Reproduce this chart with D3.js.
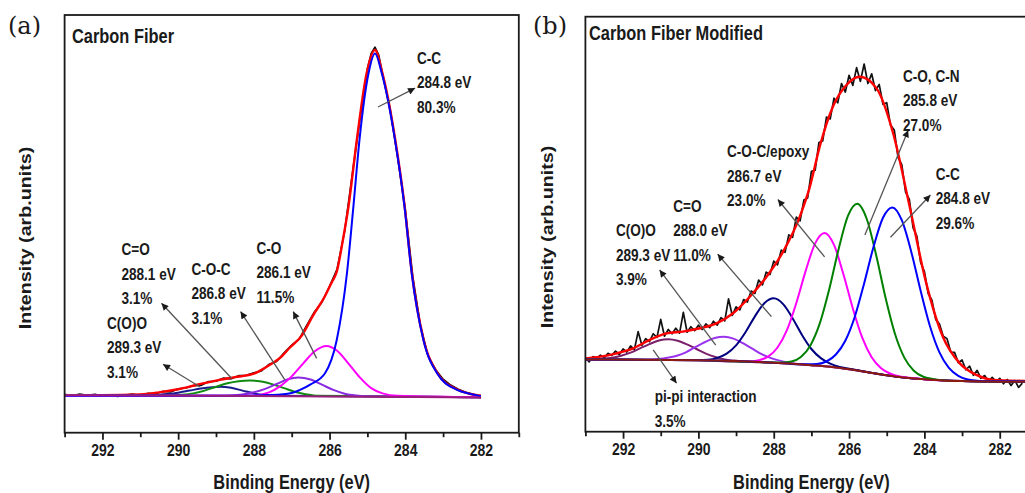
<!DOCTYPE html>
<html>
<head>
<meta charset="utf-8">
<script src="https://cdnjs.cloudflare.com/ajax/libs/d3/7.8.5/d3.min.js"></script>
<style>
  html, body { margin: 0; padding: 0; background: #fff; }
  svg { display: block; }
  text { font-family: "Liberation Sans", Arial, sans-serif; font-weight: bold; fill: #1a1a1a; }
  text.panel-tag { font-family: "DejaVu Serif", serif; font-weight: normal; }
</style>
</head>
<body>
<svg id="chart" width="1025" height="493"></svg>
<script>
// ---- data: binding energy (eV) vs intensity (arb. units) ----
const majorTicks = [292, 290, 288, 286, 284, 282];
const minorTicks = [293, 291, 289, 287, 285, 283, 281];

// (a) Carbon Fiber
const rawA = [[293,0.006],[292.8,0.002],[292.6,0.007],[292.4,0.003],[292.2,0.006],[292,0.001],[291.8,0.005],[291.6,0],
  [291.4,0.004],[291.2,0.007],[291,0.002],[290.8,0.009],[290.6,0.008],[290.4,0.015],[290.2,0.013],[290,0.022],
  [289.8,0.025],[289.6,0.031],[289.4,0.032],[289.2,0.043],[289,0.044],[288.8,0.053],[288.6,0.051],[288.4,0.06],
  [288.2,0.061],[288,0.068],[287.8,0.074],[287.6,0.093],[287.4,0.101],[287.2,0.126],[287,0.148],[286.8,0.166],
  [286.6,0.206],[286.4,0.244],[286.2,0.272],[286,0.318],[285.8,0.368],[285.6,0.478],[285.4,0.64],[285.2,0.8],
  [285,0.945],[284.9,0.99],[284.8,1.008],[284.7,0.985],[284.6,0.93],[284.4,0.83],[284.2,0.69],[284,0.54],
  [283.8,0.345],[283.6,0.205],[283.4,0.118],[283.2,0.078],[283,0.05],[282.8,0.033],[282.6,0.021],[282.4,0.012],
  [282.2,0.006],[282,-0.004]];
const envelopeA = [[293,0.004],[292,0.004],[291,0.006],[290.5,0.012],[290,0.021],[289.5,0.034],[289,0.046],[288.5,0.056],
  [288,0.066],[287.66,0.086],[287.3,0.112],[287.04,0.142],[286.74,0.175],[286.43,0.235],[286.12,0.29],[285.94,0.33],
  [285.81,0.36],[285.65,0.45],[285.5,0.548],[285.28,0.74],[285.02,0.933],[284.8,1],[284.62,0.94],[284.27,0.745],
  [284.02,0.552],[283.83,0.36],[283.52,0.166],[283.16,0.069],[282.63,0.02],[282.3,0.008],[282,0.002]];
const ccA = [[293,0.003],[288.5,0.002],[287.5,0.004],[287,0.01],[286.78,0.019],[286.5,0.035],[286.12,0.067],[285.81,0.163],
  [285.54,0.356],[285.37,0.548],[285.21,0.74],[284.97,0.933],[284.8,0.99],[284.62,0.933],[284.27,0.74],[284.02,0.548],
  [283.83,0.356],[283.52,0.163],[283.16,0.067],[282.63,0.019],[282.3,0.008],[282,0.001]];
const coA = [[293,0.003],[288.3,0.002],[288,0.003],[287.6,0.012],[287.3,0.03],[287,0.058],[286.7,0.095],[286.4,0.13],
  [286.08,0.146],[285.8,0.132],[285.5,0.095],[285.2,0.055],[284.9,0.024],[284.6,0.009],[284.2,0.002],[282,-0.002]];
const cocA = [[293,0.003],[288.9,0.002],[288.6,0.003],[288.3,0.006],[288,0.012],[287.7,0.022],[287.4,0.036],[287.1,0.05],
  [286.83,0.055],[286.5,0.049],[286.2,0.034],[285.9,0.019],[285.6,0.008],[285.3,0.003],[285,0.001],[282,-0.002]];
const cdoA = [[293,0.003],[290.2,0.003],[289.9,0.005],[289.6,0.009],[289.3,0.017],[289,0.028],[288.7,0.038],[288.4,0.044],
  [288.1,0.046],[287.8,0.043],[287.5,0.035],[287.2,0.024],[286.9,0.013],[286.6,0.006],[286.3,0.002],[282,-0.002]];
const cooA = [[293,0.003],[290.9,0.003],[290.6,0.004],[290.3,0.007],[290,0.011],[289.7,0.017],[289.4,0.023],[289.1,0.027],
  [288.88,0.028],[288.6,0.025],[288.3,0.017],[288,0.009],[287.7,0.004],[287.4,0.002],[282,-0.002]];
const baseA = [[293,0.004],[287,0.001],[282,-0.003]];
const labelsA = [
  ["C-C", "284.8 eV", "80.3%"],
  ["C-O", "286.1 eV", "11.5%"],
  ["C-O-C", "286.8 eV", "3.1%"],
  ["C=O", "288.1 eV", "3.1%"],
  ["C(O)O", "289.3 eV", "3.1%"]
];

// (b) Carbon Fiber Modified
const rawB = [[293,0.08],[292.9,0.066],[292.8,0.083],[292.7,0.078],[292.6,0.088],[292.5,0.079],[292.4,0.094],[292.3,0.087],
  [292.2,0.101],[292.1,0.09],[292,0.108],[291.9,0.098],[291.8,0.118],[291.7,0.106],[291.6,0.165],[291.5,0.12],
  [291.4,0.142],[291.3,0.132],[291.2,0.158],[291.1,0.146],[291,0.205],[290.9,0.15],[290.8,0.172],[290.7,0.158],
  [290.6,0.176],[290.5,0.16],[290.4,0.228],[290.3,0.163],[290.2,0.181],[290.1,0.168],[290,0.186],[289.9,0.172],
  [289.8,0.19],[289.7,0.178],[289.6,0.199],[289.5,0.186],[289.4,0.211],[289.3,0.2],[289.2,0.272],[289.1,0.218],
  [289,0.246],[288.9,0.236],[288.8,0.27],[288.7,0.262],[288.6,0.298],[288.5,0.29],[288.4,0.334],[288.3,0.318],
  [288.2,0.36],[288.1,0.352],[288,0.396],[287.9,0.384],[287.8,0.432],[287.7,0.425],[287.6,0.482],[287.5,0.474],
  [287.4,0.54],[287.3,0.528],[287.2,0.596],[287.1,0.603],[287,0.69],[286.9,0.694],[286.8,0.785],[286.7,0.79],
  [286.6,0.868],[286.5,0.862],[286.4,0.93],[286.3,0.915],[286.2,0.978],[286.1,0.95],[286,1.005],[285.9,0.972],
  [285.8,1.03],[285.7,0.985],[285.6,1.042],[285.5,0.978],[285.4,1.01],[285.3,0.955],[285.2,0.975],[285.1,0.91],
  [285,0.915],[284.9,0.842],[284.8,0.826],[284.7,0.736],[284.6,0.712],[284.5,0.622],[284.4,0.598],[284.3,0.505],
  [284.2,0.478],[284.1,0.392],[284,0.362],[283.9,0.29],[283.8,0.268],[283.7,0.205],[283.6,0.19],[283.5,0.15],
  [283.4,0.142],[283.3,0.098],[283.2,0.097],[283.1,0.063],[283,0.072],[282.9,0.04],[282.8,0.052],[282.7,0.022],
  [282.6,0.038],[282.5,0.012],[282.4,0.021],[282.3,0.002],[282.2,0.015],[282.1,0.001],[282,0.012],[281.9,-0.006],
  [281.8,0.008],[281.7,-0.012],[281.6,0.005],[281.5,-0.018],[281.4,-0.004]];
const envelopeB = [[293,0.077],[292.6,0.083],[292.2,0.093],[291.73,0.11],[291.29,0.138],[290.85,0.159],[290.41,0.165],
  [289.96,0.176],[289.52,0.192],[289.08,0.225],[288.64,0.279],[288.19,0.345],[287.75,0.427],[287.31,0.541],[287.04,0.64],
  [286.78,0.771],[286.43,0.902],[286.07,0.973],[285.72,1],[285.27,0.962],[284.83,0.815],[284.39,0.574],[283.95,0.323],
  [283.51,0.148],[283.06,0.061],[282.62,0.023],[282.18,0.007],[281.3,0.003]];
const ccB = [[293,0.074],[290,0.071],[288,0.063],[287.6,0.06],[287.35,0.058],[287.1,0.058],[286.85,0.059],[286.6,0.067],
  [286.35,0.09],[286.1,0.135],[285.85,0.213],[285.6,0.323],[285.35,0.443],[285.1,0.538],[284.85,0.572],[284.6,0.53],
  [284.35,0.427],[284.1,0.299],[283.85,0.182],[283.6,0.097],[283.35,0.046],[283.1,0.02],[282.85,0.008],[282.6,0.004],
  [282.35,0.002],[281.3,0.001]];
const coB = [[293,0.074],[290,0.071],[289,0.067],[288.03,0.064],[287.78,0.064],[287.53,0.067],[287.28,0.082],[287.03,0.119],
  [286.78,0.191],[286.53,0.302],[286.28,0.434],[286.03,0.544],[285.78,0.584],[285.53,0.534],[285.28,0.415],[285.03,0.275],
  [284.78,0.157],[284.53,0.079],[284.28,0.037],[284.03,0.017],[283.78,0.01],[283.53,0.006],[283,0.003],[282,0.001],[281.3,0.001]];
const cocB = [[293,0.074],[290,0.071],[288.9,0.067],[288.65,0.067],[288.4,0.071],[288.15,0.083],[287.9,0.113],[287.65,0.17],
  [287.4,0.259],[287.15,0.365],[286.9,0.454],[286.65,0.488],[286.4,0.449],[286.15,0.353],[285.9,0.241],[285.65,0.145],
  [285.4,0.081],[285.15,0.045],[284.9,0.027],[284.65,0.018],[284.4,0.014],[284,0.009],[283.5,0.005],[283,0.003],[282,0.001],[281.3,0.001]];
const cdoB = [[293,0.074],[291,0.072],[290,0.072],[289.75,0.073],[289.5,0.079],[289.25,0.093],[289,0.12],[288.75,0.163],
  [288.5,0.215],[288.25,0.258],[288,0.274],[287.75,0.255],[287.5,0.209],[287.25,0.154],[287,0.108],[286.75,0.078],
  [286.5,0.06],[286.25,0.049],[286,0.043],[285.5,0.032],[285,0.022],[284.5,0.014],[284,0.009],[283,0.003],[282,0.001],[281.3,0.001]];
const cooB = [[293,0.074],[292,0.073],[291.32,0.073],[291.07,0.075],[290.82,0.079],[290.57,0.086],[290.32,0.098],[290.07,0.115],
  [289.82,0.131],[289.57,0.144],[289.32,0.148],[289.07,0.142],[288.82,0.127],[288.57,0.109],[288.32,0.091],[288.07,0.078],
  [287.82,0.069],[287.57,0.062],[287.32,0.059],[287,0.055],[286.5,0.05],[286,0.042],[285.5,0.032],[285,0.022],[284.5,0.014],
  [284,0.009],[283,0.003],[282,0.001],[281.3,0.001]];
const pipiB = [[293,0.0744],[292.8,0.075],[292.55,0.076],[292.3,0.079],[292.05,0.086],[291.8,0.096],[291.55,0.11],[291.3,0.124],
  [291.05,0.136],[290.8,0.14],[290.55,0.135],[290.3,0.123],[290.05,0.108],[289.8,0.093],[289.55,0.082],[289.3,0.074],
  [289.05,0.07],[288.8,0.067],[288,0.063],[287,0.055],[286.5,0.05],[286,0.042],[285.5,0.032],[285,0.022],[284.5,0.014],
  [284,0.009],[283,0.003],[282,0.001],[281.3,0.001]];
const baseB = [[293,0.074],[290,0.071],[288,0.063],[287,0.055],[286.5,0.05],[286,0.042],[285.5,0.032],[285,0.022],
  [284.5,0.014],[284,0.009],[283.5,0.005],[283,0.003],[282,0.001],[281.3,0.001]];
const labelsB = [
  ["C-O, C-N", "285.8 eV", "27.0%"],
  ["C-C", "284.8 eV", "29.6%"],
  ["C-O-C/epoxy", "286.7 eV", "23.0%"],
  ["C=O", "288.0 eV", "11.0%"],
  ["C(O)O", "289.3 eV", "3.9%"],
  ["pi-pi interaction", "3.5%"]
];

// ---- annotation placement, in data units [eV, intensity] ----
const annotA = [
  { text: [283.69, 0.976], tail: [284.72, 0.8355], head: [283.74, 0.89] },
  { text: [287.93, 0.428], tail: [286.34, 0.11], head: [286.96, 0.245] },
  { text: [289.65, 0.367], tail: [287.18, 0.048], head: [288.35, 0.245] },
  { text: [291.5, 0.423], tail: [288.59, 0.0525], head: [290.44, 0.269] },
  { text: [291.88, 0.211], tail: [289.43, 0.028], head: [290.4, 0.093] }
];
const annotB = [
  { text: [284.57, 1.002], tail: [285.58, 0.4815], head: [284.43, 0.825] },
  { text: [283.7, 0.681], tail: [284.9, 0.474], head: [283.84, 0.6125] },
  { text: [289.24, 0.754], tail: [286.65, 0.41], head: [287.89, 0.598] },
  { text: [290.67, 0.5765], tail: [288.06, 0.214], head: [289.49, 0.419] },
  { text: [292.19, 0.4956], tail: [289.54, 0.121], head: [291.03, 0.367] },
  { text: [291.16, -0.048], tail: [291.2, 0.105], head: [290.58, -0.004] }
];

const panels = [
  {
    tag: "(a)", title: "Carbon Fiber",
    frame: { left: 64.6, right: 518.8, top: 15, bottom: 432.7 },
    yDomain: [-0.1045, 1.101],
    tagPos: [8, 34], titlePos: [72, 42.5], yTitle: [31, 238],
    raw: rawA, envelope: envelopeA,
    components: [
      { data: cooA, color: "#1a1a8c" },
      { data: cdoA, color: "#108a10" },
      { data: cocA, color: "#8a2be2" },
      { data: coA, color: "#ff00ff" },
      { data: ccA, color: "#0000ff" }
    ],
    baseline: baseA, baseColor: "#9b1f7a",
    labels: labelsA, annot: annotA
  },
  {
    tag: "(b)", title: "Carbon Fiber Modified",
    frame: { left: 585.4, right: 1037.4, top: 16.7, bottom: 431.7 },
    yDomain: [-0.163, 1.197],
    tagPos: [533, 33.5], titlePos: [589, 39.5], yTitle: [553, 237],
    raw: rawB, envelope: envelopeB,
    components: [
      { data: pipiB, color: "#7a1f6a" },
      { data: cooB, color: "#9933ee" },
      { data: cdoB, color: "#000080" },
      { data: cocB, color: "#ff00ff" },
      { data: coB, color: "#008000" },
      { data: ccB, color: "#0000ff" }
    ],
    baseline: baseB, baseColor: "#8b1a10",
    labels: labelsB, annot: annotB
  }
];

// ---- drawing ----
const STRETCH = 1.2;   // the source figure is squashed horizontally
const LINE_GAP = 24.5;

const svg = d3.select("#chart");
svg.append("defs").append("marker")
  .attr("id", "arrowhead")
  .attr("viewBox", "0 0 10 10")
  .attr("refX", 10).attr("refY", 5)
  .attr("markerUnits", "userSpaceOnUse")
  .attr("markerWidth", 10).attr("markerHeight", 7)
  .attr("orient", "auto")
  .append("path").attr("d", "M0,0L10,5L0,10z").attr("fill", "#1a1a1a");

function placeText(sel, x, y, rotated) {
  return sel.attr("transform",
    `translate(${x},${y}) scale(1,${STRETCH})` + (rotated ? " rotate(-90)" : ""));
}

panels.forEach((p) => {
  const f = p.frame;
  const x = d3.scaleLinear().domain([293, 281]).range([f.left, f.right]);
  const y = d3.scaleLinear().domain(p.yDomain).range([f.bottom, f.top]);
  const g = svg.append("g");

  const smooth = d3.line().x((d) => x(d[0])).y((d) => y(d[1])).curve(d3.curveMonotoneX);
  const jagged = d3.line().x((d) => x(d[0])).y((d) => y(d[1]));

  g.append("path").datum(p.raw)
    .attr("d", jagged).attr("fill", "none")
    .attr("stroke", "#111").attr("stroke-width", 1.7).attr("stroke-linejoin", "round");
  g.append("path").datum(p.envelope)
    .attr("d", smooth).attr("fill", "none")
    .attr("stroke", "#ff0000").attr("stroke-width", 2.4);
  g.selectAll(".component")
    .data(p.components)
    .join("path")
    .attr("class", "component")
    .attr("d", (d) => smooth(d.data))
    .attr("fill", "none")
    .attr("stroke", (d) => d.color)
    .attr("stroke-width", 2);
  g.append("path").datum(p.baseline)
    .attr("d", smooth).attr("fill", "none")
    .attr("stroke", p.baseColor).attr("stroke-width", 2);

  // frame
  g.append("rect")
    .attr("x", f.left).attr("y", f.top)
    .attr("width", f.right - f.left).attr("height", f.bottom - f.top)
    .attr("fill", "none").attr("stroke", "#1a1a1a").attr("stroke-width", 1.8);

  // bottom axis, ticks pointing out
  const major = g.append("g").attr("transform", `translate(0,${f.bottom})`)
    .call(d3.axisBottom(x).tickValues(majorTicks).tickSize(7).tickSizeOuter(0).tickFormat(d3.format("d")));
  const minor = g.append("g").attr("transform", `translate(0,${f.bottom})`)
    .call(d3.axisBottom(x).tickValues(minorTicks).tickSize(4.5).tickSizeOuter(0).tickFormat(""));
  major.select(".domain").remove();
  minor.select(".domain").remove();
  g.selectAll(".tick line").attr("stroke", "#1a1a1a").attr("stroke-width", 1.8);
  major.selectAll(".tick text")
    .attr("y", 0).attr("dy", null)
    .attr("transform", `translate(0,22.8) scale(1,${STRETCH})`)
    .style("font-size", "14px");

  // titles
  g.append("text").attr("class", "panel-tag")
    .attr("x", p.tagPos[0]).attr("y", p.tagPos[1])
    .style("font-size", "24px").text(p.tag);
  placeText(g.append("text"), p.titlePos[0], p.titlePos[1])
    .style("font-size", "16.4px").text(p.title);
  placeText(g.append("text"), (f.left + f.right) / 2, 489)
    .attr("text-anchor", "middle").style("font-size", "16.4px")
    .text("Binding Energy (eV)");
  placeText(g.append("text"), p.yTitle[0], p.yTitle[1], true)
    .attr("text-anchor", "middle").style("font-size", "16.4px")
    .text("Intensity (arb.units)");

  // peak annotations
  p.annot.forEach((a, i) => {
    g.append("line")
      .attr("x1", x(a.tail[0])).attr("y1", y(a.tail[1]))
      .attr("x2", x(a.head[0])).attr("y2", y(a.head[1]))
      .attr("stroke", "#555").attr("stroke-width", 1.3)
      .attr("marker-end", "url(#arrowhead)");
    p.labels[i].forEach((line, k) => {
      placeText(g.append("text"), x(a.text[0]), y(a.text[1]) + k * LINE_GAP + 5.5)
        .style("font-size", "13.6px").text(line);
    });
  });
});
</script>
</body>
</html>
